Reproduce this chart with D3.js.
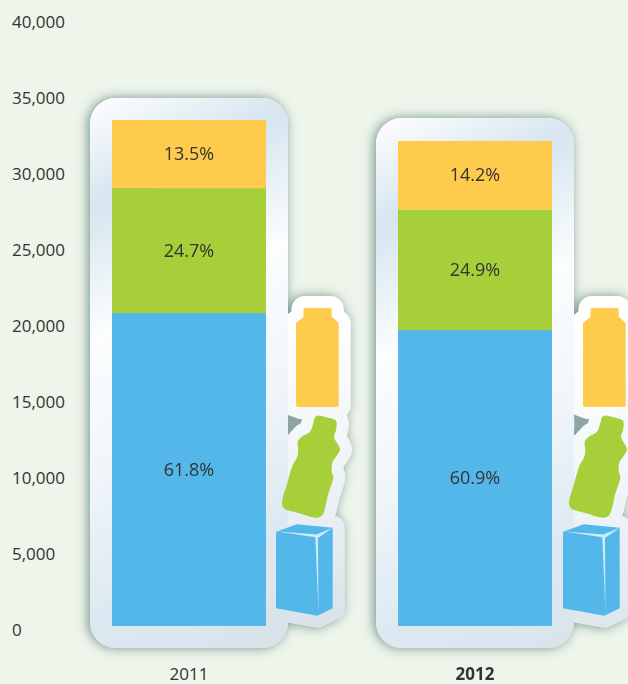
<!DOCTYPE html>
<html><head><meta charset="utf-8">
<script src="https://cdn.jsdelivr.net/npm/d3@7/dist/d3.min.js"></script>
<style>html,body{margin:0;padding:0;background:#eef5eb;overflow:hidden}svg{display:block}
text{font-family:"Open Sans",sans-serif;font-size:17px;fill:#333}</style></head>
<body><svg id="c" width="628" height="684"></svg>
<script>
const years = ["2011", "2012"];
const blue = [20590, 19470];
const green = [8220, 7930];
const yellow = [4480, 4510];
const bluePct = ["61.8%", "60.9%"];
const greenPct = ["24.7%", "24.9%"];
const yellowPct = ["13.5%", "14.2%"];
const yTicks = [0, 5000, 10000, 15000, 20000, 25000, 30000, 35000, 40000];
const colors = { blue: "#53b7ea", green: "#a7cf39", yellow: "#ffcb4d" };

const svg = d3.select("#c");
const y = d3.scaleLinear().domain([0, 40000]).range([626, 18]);
const x = d3.scaleBand().domain(years).range([112, 552]).paddingInner(132 / 286);
const defs = svg.append("defs");
const f = defs.append("filter").attr("id", "sh").attr("filterUnits", "userSpaceOnUse")
  .attr("x", 50).attr("y", 70).attr("width", 600).attr("height", 614);
f.append("feDropShadow").attr("dx", -2).attr("dy", 0).attr("stdDeviation", 6)
  .attr("flood-color", "#5f8279").attr("flood-opacity", 0.85);

const yellowShape = "M303.5 309.5Q303.5 308 305 308L330 308Q331.7 308 331.7 309.5L331.7 316.5L338.7 323L338.7 405Q338.7 407 336.7 407L298 407Q296 407 296 405L296 323L303.5 317Z";
const greenPts = [[317.3,415.7],[327,417.5],[336,420.7],[336,430],[334,436.7],[340,449.3],[337.3,455],[332.7,461.7],[331.7,471.7],[333.3,476.7],[328,495],[322.3,515],[316.7,517.7],[300,513.5],[284,508.3],[282,503.3],[287,484],[292.7,465],[297.3,456.7],[298.3,450],[297.7,441.7],[301.7,436.7],[310,431.7],[313.3,423.3],[315,417.3]];
const greenShape = d3.line().curve(d3.curveCatmullRomClosed.alpha(0.5))(greenPts);
const cartonShape = "M276 531.7L296.7 524.3L332.7 527.7L332.7 608.3L317.3 615.7L276 608.3Z";
const cartonLight = "M276 531.2L316.5 534.5L332.7 527.7L318 538L318.5 612L315.3 537.3Z";
const holeShape = "M288 415L301.7 420L288 435Z";

years.forEach((yr, i) => {
  const left = x(yr), top = y(blue[i] + green[i] + yellow[i]);
  const off = left - x(years[0]);
  const iconOff = i === 0 ? 0 : off + 1;
  const x0 = left - 22, y0 = i === 0 ? top - 22 : top - 23;
  const g = defs.append("linearGradient").attr("id", "pg" + i).attr("gradientUnits", "userSpaceOnUse")
    .attr("x1", x0).attr("y1", y0).attr("x2", x0 + 262).attr("y2", y0 + 518);
  [[0, "#ffffff"], [0.17, "#d6e5ef"], [0.37, "#fbfdfe"], [0.55, "#f3f7fb"], [0.8, "#dde9f2"], [1, "#d9e2e9"]]
    .forEach(s => g.append("stop").attr("offset", s[0]).attr("stop-color", s[1]));
  const paint = "url(#pg" + i + ")";
  const p = svg.append("g").attr("filter", "url(#sh)");
  p.append("rect").attr("x", x0).attr("y", y0).attr("width", 198).attr("height", 648 - y0).attr("rx", 26).attr("fill", paint);
  const sg = defs.append("linearGradient").attr("id", "sg" + i).attr("gradientUnits", "userSpaceOnUse")
    .attr("x1", 300 + iconOff).attr("y1", 300).attr("x2", 340 + iconOff).attr("y2", 630);
  [[0, "#ffffff"], [0.45, "#f2f6fa"], [1, "#d9e2e9"]].forEach(s => sg.append("stop").attr("offset", s[0]).attr("stop-color", s[1]));
  [yellowShape, greenShape, cartonShape].forEach(d => p.append("path").attr("d", d)
    .attr("transform", `translate(${iconOff},0)`)
    .attr("fill", "url(#sg" + i + ")").attr("stroke", "url(#sg" + i + ")").attr("stroke-width", 24).attr("stroke-linejoin", "round"));
  // panel repainted over the sticker roots so that the two surfaces join without a seam
  svg.append("rect").attr("x", x0).attr("y", y0).attr("width", 198).attr("height", 648 - y0).attr("rx", 26).attr("fill", paint);
  const ic = svg.append("g").attr("transform", `translate(${iconOff},0)`);
  ic.append("path").attr("d", holeShape).attr("fill", "#8da4a6");
  ic.append("path").attr("d", yellowShape).attr("fill", colors.yellow);
  ic.append("path").attr("d", greenShape).attr("fill", colors.green);
  ic.append("path").attr("d", cartonShape).attr("fill", colors.blue);
  ic.append("path").attr("d", cartonLight).attr("fill", "#cfeaf8");
});

const stack = [
  { k: "blue", v: blue, t: bluePct },
  { k: "green", v: green, t: greenPct },
  { k: "yellow", v: yellow, t: yellowPct }
];
const base = years.map(() => 0);
stack.forEach(s => {
  years.forEach((yr, i) => {
    const y0 = base[i], y1 = y0 + s.v[i];
    base[i] = y1;
    svg.append("rect").attr("x", x(yr)).attr("width", x.bandwidth())
      .attr("y", y(y1)).attr("height", y(y0) - y(y1)).attr("fill", colors[s.k]);
    svg.append("text").attr("x", x(yr) + x.bandwidth() / 2).attr("y", (y(y0) + y(y1)) / 2 + 6.2)
      .attr("text-anchor", "middle").style("font-size", "18px").text(s.t[i]);
  });
});

const ya = svg.append("g").attr("transform", "translate(12,3)")
  .call(d3.axisLeft(y).tickValues(yTicks).tickSize(0).tickPadding(0).tickFormat(d3.format(",")));
ya.select(".domain").remove();
ya.selectAll("text").attr("x", 0).attr("dy", "0.36em").attr("text-anchor", "start").attr("fill", "#333")
  .style("font-family", '"Open Sans",sans-serif').style("font-size", "17px");

const xa = svg.append("g").attr("transform", "translate(0,668)")
  .call(d3.axisBottom(x).tickSize(0).tickPadding(0));
xa.select(".domain").remove();
xa.selectAll("text").attr("y", 0).attr("dy", "0.71em").attr("fill", "#333")
  .style("font-family", '"Open Sans",sans-serif').style("font-size", "17px")
  .style("font-weight", d => d === "2012" ? 700 : 400);
</script></body></html>
